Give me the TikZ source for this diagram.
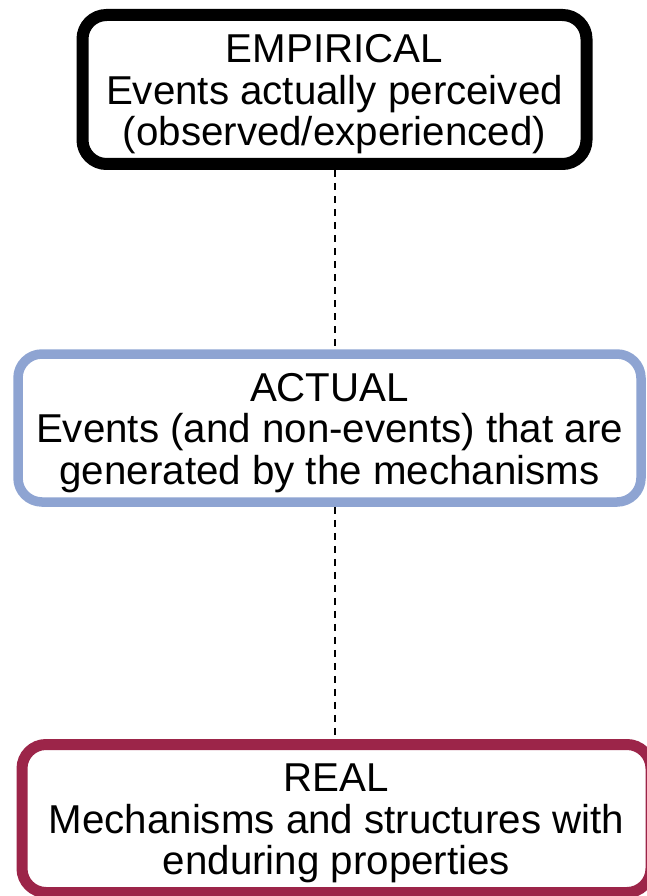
\documentclass[tikz,border=0pt]{standalone}
\usepackage{fontspec}
\setmainfont{Liberation Sans}
\definecolor{actblue}{HTML}{8EA4D2}
\definecolor{realred}{HTML}{9C2549}
\newcommand{\topstrut}{\rule{0pt}{37.5pt}}
\begin{document}
\begin{tikzpicture}[x=1pt,y=1pt,
  levelbox/.style={draw, rounded corners=24pt, fill=white, align=center,
    font=\fontsize{40.3}{41.5}\selectfont, inner sep=0pt},
  link/.style={draw=black, line width=2.5pt, dash pattern=on 7pt off 6pt}]
\useasboundingbox (0,0) rectangle (646,-896);
\node[levelbox, line width=12pt, minimum width=504pt, minimum height=149pt]
  (emp) at (334.5,-89.5) {\topstrut EMPIRICAL\\Events actually perceived\\(observed/experienced)};
\node[levelbox, draw=actblue, line width=9.5pt, minimum width=623pt, minimum height=148pt]
  (act) at (329.5,-428) {\topstrut ACTUAL\\Events (and non-events) that are\\generated by the mechanisms};
\node[levelbox, draw=realred, line width=11pt, minimum width=629pt, minimum height=148pt]
  (real) at (336.5,-818.5) {\topstrut REAL\\Mechanisms and structures with\\enduring properties};
\coordinate (e1) at ([xshift=0.5pt]emp.south);
\coordinate (a1) at ([xshift=5.5pt]act.south);
\draw[link] (e1) -- (e1 |- act.north);
\draw[link] (a1) -- (a1 |- real.north);
\end{tikzpicture}
\end{document}
